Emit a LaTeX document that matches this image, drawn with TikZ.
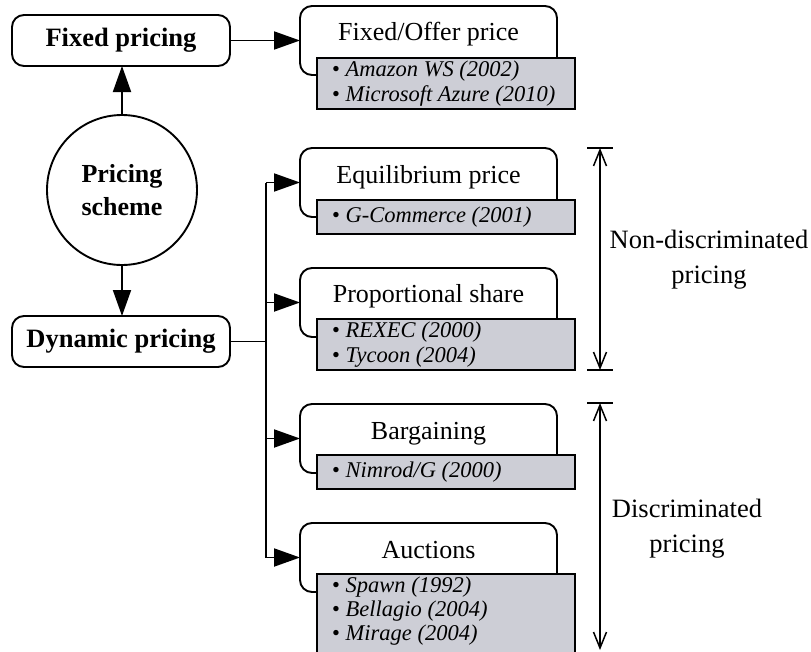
\documentclass[tikz,border=0pt]{standalone}
\usepackage{fontspec}
\setmainfont{Liberation Serif}
\usetikzlibrary{arrows.meta,calc}

\definecolor{itemgray}{RGB}{205,206,214}

\tikzset{
  outline/.style={draw=black, line width=1.9pt, outer sep=0pt},
  catbox/.style={outline, rounded corners=12pt, fill=white, minimum width=218pt,
    minimum height=51pt, inner sep=0pt, text height=18pt, text depth=6pt,
    font=\fontsize{26.5}{30}\selectfont\bfseries},
  hub/.style={outline, circle, minimum size=150pt, inner sep=0pt, align=center,
    fill=white, font=\fontsize{26}{33}\selectfont\bfseries},
  headbox/.style={outline, rounded corners=12pt, fill=white, minimum width=257pt,
    minimum height=69pt, inner sep=0pt, anchor=north west},
  headtext/.style={font=\fontsize{26}{30}\selectfont, inner sep=0pt, anchor=base},
  listbox/.style={outline, fill=itemgray, minimum width=258pt, inner sep=0pt,
    anchor=north west},
  listitem/.style={font=\fontsize{22.5}{25}\selectfont\itshape, inner sep=0pt,
    anchor=base west},
  link/.style={line width=1.9pt},
  flow/.style={link, -{Triangle[length=26pt,width=18pt]}},
  span/.style={line width=1.5pt,
    {Straight Barb[length=16pt,width=13pt]}-{Straight Barb[length=16pt,width=13pt]}},
  tick/.style={line width=1.3pt},
  sidelabel/.style={font=\fontsize{26.5}{35}\selectfont, align=center, inner sep=0pt},
}

\newcommand{\itemline}[1]{{\upshape\textbullet}\ #1}

\begin{document}
\begin{tikzpicture}[x=1pt,y=-1pt]
  \useasboundingbox (0,0) rectangle (811,651);
  \clip (0,0) rectangle (811,651);

  % left column: scheme and its two kinds
  \node[catbox] (fixed) at (121,40.5) {Fixed pricing};
  \node[hub] (hub) at (122,190) {Pricing\\scheme};
  \node[catbox] (dynamic) at (121,341.5) {Dynamic pricing};

  % category boxes (white headers)
  \node[headbox] (fixhead) at (300,6) {};
  \node[headbox] (eqhead)  at (300,148) {};
  \node[headbox] (prophead) at (300,268) {};
  \node[headbox] (barghead) at (300,404) {};
  \node[headbox] (auchead) at (300,523) {};

  % example lists (grey boxes)
  \node[listbox, minimum height=51pt] (fixlist)  at (317,58) {};
  \node[listbox, minimum height=34pt] (eqlist)   at (317,200) {};
  \node[listbox, minimum height=51pt] (proplist) at (317,319) {};
  \node[listbox, minimum height=34pt] (barglist) at (317,455) {};
  \node[listbox, minimum height=90pt] (auclist)  at (317,574) {};

  % header titles
  \node[headtext] (fixtitle)  at ($(fixhead.north)+(0,34)$)  {Fixed/Offer price};
  \node[headtext] (eqtitle)   at ($(eqhead.north)+(0,35)$)   {Equilibrium price};
  \node[headtext] (proptitle) at ($(prophead.north)+(0,34)$) {Proportional share};
  \node[headtext] (bargtitle) at ($(barghead.north)+(0,35)$) {Bargaining};
  \node[headtext] (auctitle)  at ($(auchead.north)+(0,35)$)  {Auctions};

  % list entries
  \node[listitem] (fix1) at ($(fixlist.north west)+(15,18)$) {\itemline{Amazon WS (2002)}};
  \node[listitem] (fix2) at ($(fixlist.north west)+(15,43)$) {\itemline{Microsoft Azure (2010)}};
  \node[listitem] (eq1)  at ($(eqlist.north west)+(15,22)$)  {\itemline{G-Commerce (2001)}};
  \node[listitem] (prop1) at ($(proplist.north west)+(15,18)$) {\itemline{REXEC (2000)}};
  \node[listitem] (prop2) at ($(proplist.north west)+(15,43)$) {\itemline{Tycoon (2004)}};
  \node[listitem] (barg1) at ($(barglist.north west)+(15,22)$) {\itemline{Nimrod/G (2000)}};
  \node[listitem] (auc1) at ($(auclist.north west)+(15,18)$) {\itemline{Spawn (1992)}};
  \node[listitem] (auc2) at ($(auclist.north west)+(15,42)$) {\itemline{Bellagio (2004)}};
  \node[listitem] (auc3) at ($(auclist.north west)+(15,66)$) {\itemline{Mirage (2004)}};

  % connectors
  \draw[flow] (fixed.east) -- (fixed.east -| fixhead.west);
  \draw[flow] (hub.north) -- (hub.north |- fixed.south);
  \draw[flow] (hub.south) -- (hub.south |- dynamic.north);

  \coordinate (trunk) at (266,0);
  \draw[link] (dynamic.east) -- (dynamic.east -| trunk);
  \draw[link] (trunk |- eqhead.west) -- (trunk |- auchead.west);
  \draw[flow] (trunk |- eqhead.west) -- (eqhead.west);
  \draw[flow] (trunk |- prophead.west) -- (prophead.west);
  \draw[flow] (trunk |- barghead.west) -- (barghead.west);
  \draw[flow] (trunk |- auchead.west) -- (auchead.west);

  % dimension markers on the right
  \coordinate (ndtop) at (600,148);
  \coordinate (ndbot) at (600,370);
  \coordinate (dtop)  at (600,403);
  \coordinate (dbot)  at (600,650);
  \draw[tick] ($(ndtop)+(-13,0)$) -- ($(ndtop)+(13,0)$);
  \draw[tick] ($(ndbot)+(-13,0)$) -- ($(ndbot)+(13,0)$);
  \draw[tick] ($(dtop)+(-13,0)$) -- ($(dtop)+(13,0)$);
  \draw[span] (ndtop) -- (ndbot);
  \draw[span] (dtop) -- (dbot);

  \node[sidelabel] (ndlabel) at (709,259.5) {Non-discriminated\\pricing};
  \node[sidelabel] (dlabel)  at (687,528.5) {Discriminated\\pricing};
\end{tikzpicture}
\end{document}
